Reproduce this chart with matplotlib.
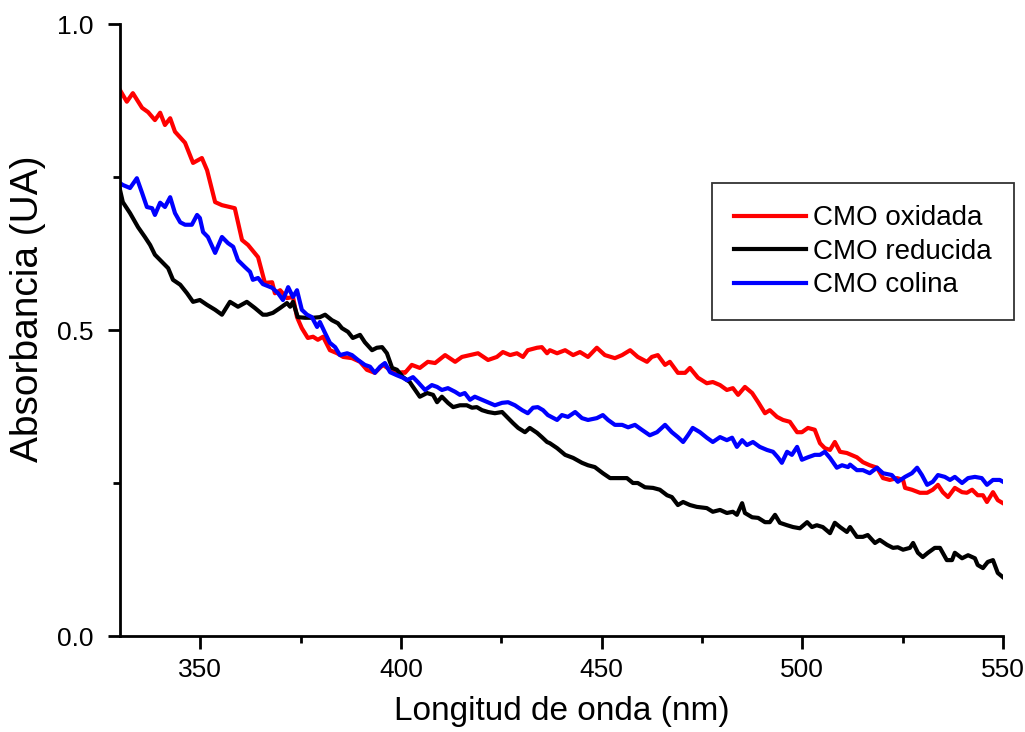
import matplotlib
matplotlib.use("Agg")
import matplotlib.pyplot as plt
from matplotlib.ticker import MultipleLocator, FormatStrFormatter

plt.rcParams['font.family'] = ['Liberation Sans', 'DejaVu Sans']

# CMO oxidada (red)
wl_ox = [330.0, 331.7, 333.2, 335.5, 337.0, 338.7, 340.0, 341.2, 342.5, 343.7,
         346.2, 348.2, 350.4, 351.7, 353.7, 355.4, 358.6, 360.4, 361.9, 364.4,
         366.1, 367.9, 368.6, 369.9, 371.6, 373.1, 374.1, 375.3, 376.8, 378.1,
         379.3, 380.6, 382.3, 384.1, 385.6, 387.8, 389.8, 391.5, 393.5, 395.5,
         397.3, 399.0, 400.5, 401.0, 402.7, 404.7, 406.7, 408.5, 411.0, 413.5,
         415.2, 417.2, 419.2, 421.7, 423.9, 425.4, 427.2, 428.9, 430.4, 431.6,
         433.9, 435.1, 436.4, 437.1, 438.9, 440.9, 442.9, 444.6, 446.6, 448.8,
         450.8, 453.3, 455.1, 457.1, 459.0, 461.3, 462.5, 464.0, 465.8, 467.0,
         469.0, 470.8, 472.0, 474.0, 476.2, 477.7, 479.5, 481.2, 482.7, 484.0,
         485.7, 487.5, 489.0, 490.7, 491.9, 493.7, 495.2, 496.9, 498.7, 499.9,
         501.4, 503.1, 504.4, 505.6, 506.9, 508.1, 509.4, 511.1, 513.6, 515.1,
         516.8, 518.6, 520.1, 521.8, 523.6, 525.1, 525.6, 527.3, 529.3, 531.1,
         532.5, 533.8, 535.0, 536.3, 538.0, 539.8, 541.0, 542.3, 543.7, 545.0,
         546.0, 547.5, 548.7, 550.0]
abs_ox = [0.892, 0.873, 0.887, 0.863, 0.856, 0.843, 0.855, 0.835, 0.846, 0.824,
          0.806, 0.773, 0.781, 0.761, 0.709, 0.704, 0.699, 0.647, 0.639, 0.619,
          0.577, 0.578, 0.560, 0.565, 0.552, 0.554, 0.521, 0.503, 0.487, 0.489,
          0.484, 0.489, 0.467, 0.462, 0.456, 0.454, 0.448, 0.435, 0.430, 0.443,
          0.435, 0.430, 0.431, 0.430, 0.443, 0.438, 0.448, 0.446, 0.459, 0.448,
          0.456, 0.459, 0.462, 0.451, 0.456, 0.464, 0.459, 0.462, 0.456, 0.467,
          0.471, 0.472, 0.462, 0.467, 0.462, 0.467, 0.459, 0.464, 0.456, 0.471,
          0.459, 0.454, 0.459, 0.467, 0.456, 0.448, 0.456, 0.459, 0.443, 0.448,
          0.430, 0.430, 0.438, 0.422, 0.413, 0.415, 0.410, 0.402, 0.405, 0.394,
          0.407, 0.397, 0.382, 0.364, 0.369, 0.358, 0.353, 0.350, 0.333, 0.333,
          0.340, 0.337, 0.315, 0.307, 0.304, 0.317, 0.301, 0.299, 0.292, 0.284,
          0.279, 0.275, 0.258, 0.255, 0.258, 0.255, 0.242, 0.239, 0.234, 0.234,
          0.239, 0.247, 0.235, 0.227, 0.242, 0.235, 0.234, 0.239, 0.230, 0.230,
          0.219, 0.235, 0.222, 0.217]

# CMO reducida (black)
wl_red = [330.0, 330.7, 332.5, 334.5, 336.2, 337.5, 338.7, 340.5, 342.0, 343.2,
          345.0, 346.7, 348.2, 349.9, 351.7, 353.7, 355.4, 357.4, 359.4, 361.6,
          363.6, 365.6, 366.6, 368.1, 369.9, 371.6, 372.4, 373.1, 374.3, 376.1,
          378.1, 379.8, 381.1, 382.8, 384.3, 385.3, 386.8, 388.0, 389.8, 391.0,
          392.8, 394.0, 395.3, 396.5, 397.8, 399.0, 400.5, 402.2, 402.7, 404.7,
          406.5, 408.0, 409.0, 410.2, 411.7, 413.0, 414.7, 416.4, 417.7, 418.9,
          420.2, 421.7, 423.4, 425.2, 426.4, 427.9, 429.2, 430.9, 432.1, 433.9,
          435.1, 436.4, 437.1, 438.9, 440.9, 442.9, 445.1, 446.6, 448.3, 450.3,
          452.1, 454.1, 456.3, 457.8, 459.0, 460.8, 462.8, 464.5, 466.3, 467.5,
          469.0, 470.3, 472.0, 473.7, 476.2, 477.7, 479.5, 481.2, 482.7, 483.7,
          485.0, 485.7, 487.5, 489.0, 490.7, 491.9, 493.2, 494.4, 496.2, 497.7,
          499.4, 501.2, 502.4, 503.6, 505.1, 506.9, 508.1, 509.4, 511.1, 511.9,
          513.6, 515.1, 516.3, 518.1, 519.3, 521.1, 522.6, 523.8, 525.1, 526.8,
          527.6, 528.8, 530.0, 531.3, 533.0, 534.3, 536.0, 537.3, 538.0, 539.8,
          541.3, 543.0, 543.7, 545.0, 546.2, 547.5, 548.7, 550.0]
abs_red = [0.729, 0.709, 0.691, 0.668, 0.652, 0.639, 0.623, 0.611, 0.601, 0.582,
           0.574, 0.560, 0.546, 0.549, 0.541, 0.533, 0.525, 0.546, 0.538, 0.546,
           0.536, 0.525, 0.525, 0.528, 0.536, 0.544, 0.538, 0.546, 0.521, 0.520,
           0.520, 0.521, 0.525, 0.516, 0.511, 0.503, 0.497, 0.487, 0.492, 0.480,
           0.467, 0.471, 0.472, 0.462, 0.438, 0.435, 0.423, 0.415, 0.410, 0.391,
           0.397, 0.394, 0.382, 0.391, 0.381, 0.374, 0.377, 0.377, 0.373, 0.374,
           0.369, 0.366, 0.364, 0.366, 0.358, 0.348, 0.340, 0.333, 0.340, 0.332,
           0.325, 0.317, 0.315, 0.307, 0.296, 0.291, 0.283, 0.279, 0.276, 0.266,
           0.258, 0.258, 0.258, 0.250, 0.250, 0.243, 0.242, 0.239, 0.230, 0.227,
           0.214, 0.219, 0.214, 0.211, 0.209, 0.203, 0.206, 0.201, 0.203, 0.198,
           0.217, 0.201, 0.194, 0.193, 0.186, 0.186, 0.198, 0.185, 0.181, 0.178,
           0.176, 0.186, 0.178, 0.181, 0.178, 0.168, 0.185, 0.178, 0.170, 0.178,
           0.162, 0.162, 0.165, 0.152, 0.157, 0.149, 0.144, 0.145, 0.141, 0.144,
           0.152, 0.136, 0.129, 0.136, 0.144, 0.144, 0.124, 0.124, 0.136, 0.127,
           0.132, 0.127, 0.116, 0.111, 0.121, 0.124, 0.103, 0.096]

# CMO colina (blue)
wl_col = [330.0, 330.7, 332.5, 334.2, 335.5, 336.7, 338.0, 338.7, 340.0, 341.2,
          342.5, 343.7, 345.0, 346.2, 347.9, 349.2, 349.9, 350.7, 351.9, 353.7,
          355.4, 356.9, 358.2, 359.4, 361.1, 362.4, 363.1, 364.4, 365.6, 367.9,
          369.4, 370.6, 371.9, 373.1, 374.1, 375.3, 376.6, 377.8, 379.1, 379.8,
          381.1, 382.3, 383.6, 384.8, 386.6, 387.8, 389.3, 391.0, 392.3, 393.5,
          394.8, 396.0, 397.3, 399.0, 400.5, 401.5, 403.0, 404.2, 406.0, 407.7,
          409.0, 410.2, 411.7, 413.5, 414.7, 415.9, 417.2, 418.4, 420.2, 421.7,
          423.4, 425.2, 426.7, 428.4, 430.2, 431.6, 432.9, 434.1, 435.4, 436.6,
          438.9, 440.1, 441.6, 443.4, 445.1, 446.6, 448.8, 450.3, 451.6, 453.3,
          455.1, 456.6, 458.3, 460.0, 462.0, 463.8, 465.8, 467.5, 469.0, 470.3,
          471.5, 472.7, 474.5, 476.2, 477.7, 479.5, 481.2, 482.5, 483.7, 485.0,
          486.2, 487.7, 489.4, 491.2, 492.7, 493.9, 494.9, 496.2, 497.4, 498.7,
          499.9, 501.4, 503.1, 504.4, 505.6, 506.9, 508.6, 509.9, 511.4, 511.9,
          513.6, 515.1, 516.8, 518.6, 520.1, 522.3, 523.8, 525.6, 527.3, 528.6,
          529.8, 531.1, 532.5, 533.8, 535.5, 536.8, 538.0, 539.8, 541.3, 543.0,
          544.7, 546.0, 547.5, 549.2, 550.0]
abs_col = [0.740, 0.737, 0.732, 0.748, 0.724, 0.701, 0.699, 0.688, 0.708, 0.701,
           0.717, 0.691, 0.676, 0.672, 0.672, 0.688, 0.683, 0.660, 0.652, 0.626,
           0.652, 0.642, 0.636, 0.614, 0.603, 0.595, 0.582, 0.585, 0.575, 0.569,
           0.560, 0.549, 0.570, 0.554, 0.565, 0.533, 0.525, 0.521, 0.505, 0.513,
           0.495, 0.479, 0.472, 0.459, 0.462, 0.459, 0.451, 0.443, 0.440, 0.430,
           0.440, 0.446, 0.431, 0.426, 0.422, 0.418, 0.423, 0.415, 0.402, 0.410,
           0.407, 0.402, 0.405, 0.399, 0.394, 0.397, 0.386, 0.391, 0.386, 0.382,
           0.377, 0.381, 0.382, 0.377, 0.369, 0.364, 0.373, 0.374, 0.369, 0.361,
           0.353, 0.361, 0.358, 0.366, 0.356, 0.353, 0.356, 0.361, 0.353, 0.345,
           0.345, 0.341, 0.345, 0.337, 0.328, 0.333, 0.345, 0.333, 0.325, 0.317,
           0.328, 0.340, 0.333, 0.324, 0.317, 0.325, 0.320, 0.324, 0.309, 0.320,
           0.312, 0.317, 0.309, 0.304, 0.301, 0.292, 0.283, 0.301, 0.296, 0.309,
           0.288, 0.292, 0.296, 0.296, 0.301, 0.291, 0.275, 0.279, 0.276, 0.280,
           0.271, 0.271, 0.266, 0.275, 0.266, 0.263, 0.252, 0.260, 0.266, 0.275,
           0.263, 0.247, 0.252, 0.263, 0.260, 0.255, 0.260, 0.250, 0.258, 0.260,
           0.258, 0.247, 0.255, 0.255, 0.252]

fig = plt.figure(figsize=(10.25, 7.32), dpi=100)
ax = fig.add_axes([120 / 1025, 96 / 732, 883 / 1025, 612 / 732])

lw = 3.0
ax.plot(wl_ox, abs_ox, color='#ff0000', lw=lw, label='CMO oxidada')
ax.plot(wl_red, abs_red, color='black', lw=lw, label='CMO reducida')
ax.plot(wl_col, abs_col, color='#0000ff', lw=lw, label='CMO colina')

ax.set_xlim(330, 550)
ax.set_ylim(0, 1.0)
ax.xaxis.set_major_locator(MultipleLocator(50))
ax.xaxis.set_minor_locator(MultipleLocator(25))
ax.yaxis.set_major_locator(MultipleLocator(0.5))
ax.yaxis.set_minor_locator(MultipleLocator(0.25))
ax.yaxis.set_major_formatter(FormatStrFormatter('%.1f'))

for side in ['top', 'right']:
    ax.spines[side].set_visible(False)
for side in ['left', 'bottom']:
    ax.spines[side].set_linewidth(2.0)

ax.tick_params(which='major', direction='out', length=9, width=2.0, labelsize=19)
ax.tick_params(which='minor', direction='out', length=5, width=2.0)
ax.tick_params(axis='y', pad=10)
ax.tick_params(axis='x', pad=7)

ax.set_xlabel('Longitud de onda (nm)', fontsize=24, labelpad=10)
ax.set_ylabel('Absorbancia (UA)', fontsize=28)
ax.yaxis.set_label_coords(-0.084, 0.535)

leg = ax.legend(loc='upper left', bbox_to_anchor=(712 / 1025, 1 - 183 / 732),
                bbox_transform=fig.transFigure, borderaxespad=0,
                fontsize=20, frameon=True, fancybox=False, edgecolor='black',
                handlelength=2.6, handletextpad=0.25, borderpad=0.8,
                labelspacing=0.27)
leg.get_frame().set_linewidth(1.3)
for line in leg.get_lines():
    line.set_linewidth(lw)

fig.savefig('out.png', dpi=100)
